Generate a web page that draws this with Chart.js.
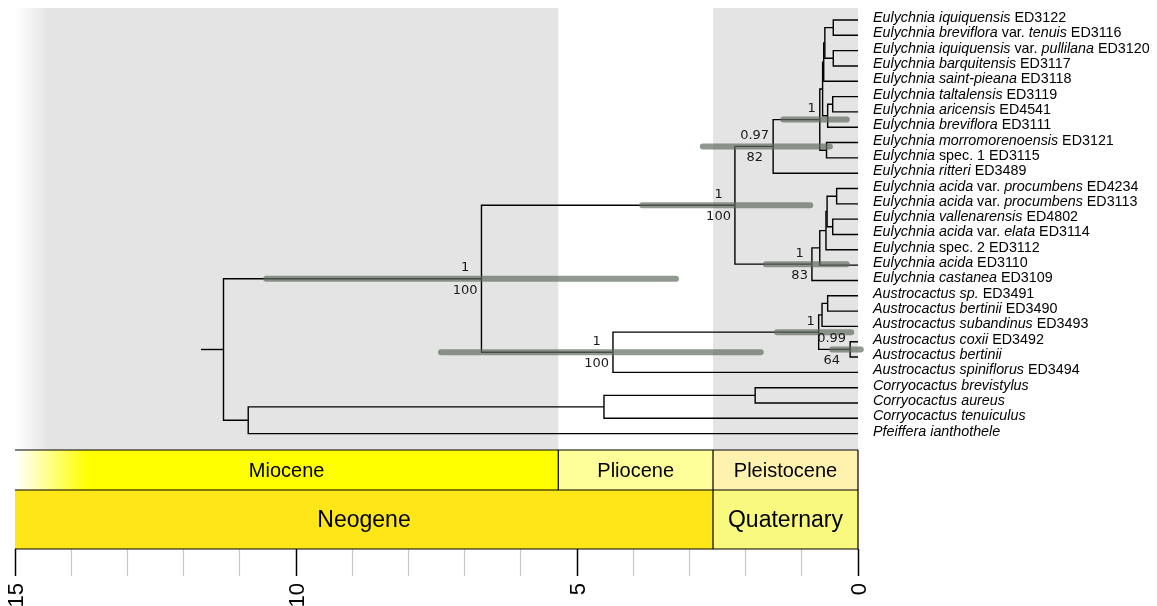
<!DOCTYPE html>
<html>
<head>
<meta charset="utf-8">
<script src="https://cdn.jsdelivr.net/npm/chart.js@4.4.1/dist/chart.umd.min.js"></script>
<style>
  html, body { margin: 0; padding: 0; background: #fff; }
  #wrap { width: 1157px; height: 606px; position: relative; }
</style>
</head>
<body>
<div id="wrap"><canvas id="tree"></canvas></div>
<script>
// tips, top to bottom (text between * is italic)
const tipLabels = [
    '*Eulychnia iquiquensis* ED3122',
    '*Eulychnia breviflora* var. *tenuis* ED3116',
    '*Eulychnia iquiquensis* var. *pullilana* ED3120',
    '*Eulychnia barquitensis* ED3117',
    '*Eulychnia saint-pieana* ED3118',
    '*Eulychnia taltalensis* ED3119',
    '*Eulychnia aricensis* ED4541',
    '*Eulychnia breviflora* ED3111',
    '*Eulychnia morromorenoensis* ED3121',
    '*Eulychnia* spec. 1 ED3115',
    '*Eulychnia ritteri* ED3489',
    '*Eulychnia acida* var. *procumbens* ED4234',
    '*Eulychnia acida* var. *procumbens* ED3113',
    '*Eulychnia vallenarensis* ED4802',
    '*Eulychnia acida* var. *elata* ED3114',
    '*Eulychnia* spec. 2 ED3112',
    '*Eulychnia acida* ED3110',
    '*Eulychnia castanea* ED3109',
    '*Austrocactus sp.* ED3491',
    '*Austrocactus bertinii* ED3490',
    '*Austrocactus subandinus* ED3493',
    '*Austrocactus coxii* ED3492',
    '*Austrocactus bertinii*',
    '*Austrocactus spiniflorus* ED3494',
    '*Corryocactus brevistylus*',
    '*Corryocactus aureus*',
    '*Corryocactus tenuiculus*',
    '*Pfeiffera ianthothele*'
];

// internal nodes: children (tip index or node id) and age (Ma)
const nodeIds = ['A', 'B', 'C', 'D', 'E', 'F', 'G', 'H', 'I', 'J',
    'K', 'L', 'M', 'N', 'O', 'P', 'EU', 'S', 'Q', 'T', 'R', 'AU',
    'ING', 'C2', 'CO', 'OUT', 'ROOT'];
const nodeChildren = [[0, 1], [2, 3], ['A', 'B'], ['C', 4], [5, 6], ['E', 7], ['D', 'F'], [8, 9], ['G', 'H'], ['I', 10],
    [11, 12], [13, 14], ['K', 'L'], ['M', 15], ['N', 16], ['O', 17], ['J', 'P'], [18, 19], ['S', 20], [21, 22], ['Q', 'T'], ['R', 23],
    ['EU', 'AU'], [24, 25], ['C2', 26], ['CO', 27], ['ING', 'OUT']];
const nodeAges = [0.44, 0.44, 0.59, 0.61, 0.45, 0.54, 0.63, 0.56, 0.68, 1.51,
    0.38, 0.45, 0.55, 0.57, 0.68, 0.82, 2.19, 0.54, 0.64, 0.14, 0.70, 4.36,
    6.70, 1.83, 4.52, 10.85, 11.29];
const rootStemAge = 11.69;

// support (posterior / bootstrap) and 95% HPD of node ages
const supportNodes = ['ING', 'EU', 'J', 'I', 'P', 'AU', 'R', 'T'];
const posterior = ['1', '1', '0.97', '1', '1', '1', '1', '0.99'];
const bootstrap = ['100', '100', '82', '', '83', '100', '', '64'];
const hpdMin = [3.24, 0.85, 0.50, 0.20, 0.20, 1.73, 0.12, -0.05];
const hpdMax = [10.53, 3.84, 2.76, 1.33, 1.64, 7.42, 1.44, 0.46];

// geologic time scale
const epochNames = ['Miocene', 'Pliocene', 'Pleistocene'];
const epochStart = [23.03, 5.333, 2.58];
const epochEnd = [5.333, 2.58, 0];
const epochColors = ['#ffff00', '#ffff99', '#fff2ae'];
const periodNames = ['Neogene', 'Quaternary'];
const periodStart = [23.03, 2.58];
const periodEnd = [2.58, 0];
const periodColors = ['#ffe619', '#f9f97f'];
const labelledAges = [0, 5, 10, 15];

// layout
const EPOCH_ROW = 40, PERIOD_ROW = 59;
const TIP_FONT = '14.3px "Liberation Sans", Arial, sans-serif';
const NODE_FONT = '13px "DejaVu Sans", sans-serif';

const nodeIndex = {};
nodeIds.forEach((id, i) => { nodeIndex[id] = i; });

function posOf(c) {
    if (typeof c === 'number') return { x: 0, y: c };
    const i = nodeIndex[c];
    const ys = nodeChildren[i].map(k => posOf(k).y);
    return { x: nodeAges[i], y: (ys[0] + ys[1]) / 2 };
}

const treeStyle = {
    showLine: true, borderColor: '#000', borderWidth: 1.4,
    pointRadius: 0, pointHoverRadius: 0, fill: false, order: 1
};

const datasets = [];
nodeIds.forEach((id, i) => {
    const p = posOf(id);
    const [a, b] = nodeChildren[i].map(posOf);
    datasets.push(Object.assign({
        data: [{ x: a.x, y: a.y }, { x: p.x, y: a.y }, { x: p.x, y: b.y }, { x: b.x, y: b.y }]
    }, treeStyle));
});
const rootPos = posOf('ROOT');
datasets.push(Object.assign({
    data: [{ x: rootStemAge, y: rootPos.y }, { x: rootPos.x, y: rootPos.y }]
}, treeStyle));

supportNodes.forEach((id, i) => {
    const p = posOf(id);
    datasets.push({
        data: [{ x: hpdMax[i], y: p.y }, { x: hpdMin[i], y: p.y }],
        showLine: true, borderColor: 'rgba(95,110,95,0.7)', borderWidth: 6,
        borderCapStyle: 'round', pointRadius: 0, pointHoverRadius: 0,
        fill: false, order: 0, clip: false
    });
});

// grey epoch bands + time scale boxes
const backdrop = {
    id: 'backdrop',
    beforeDatasetsDraw(chart) {
        const { ctx, chartArea: area, scales: { x } } = chart;
        const px = t => x.getPixelForValue(Math.min(t, x.max));
        const left = px(x.max), right = px(x.min);
        const periodTop = area.bottom - PERIOD_ROW;
        const epochTop = periodTop - EPOCH_ROW;
        ctx.save();

        epochNames.forEach((name, i) => {
            if (i % 2) return;
            const x0 = px(epochStart[i]), x1 = px(epochEnd[i]);
            let fill = '#e4e4e4';
            if (epochStart[i] > x.max) {
                fill = ctx.createLinearGradient(x0, 0, px(14.4), 0);
                fill.addColorStop(0, '#ffffff');
                fill.addColorStop(1, '#e4e4e4');
            }
            ctx.fillStyle = fill;
            ctx.fillRect(x0, area.top, x1 - x0, epochTop - area.top);
        });

        ctx.textAlign = 'center';
        ctx.textBaseline = 'middle';
        epochNames.forEach((name, i) => {
            const x0 = px(epochStart[i]), x1 = px(epochEnd[i]);
            let fill = epochColors[i];
            if (epochStart[i] > x.max) {
                fill = ctx.createLinearGradient(x0, 0, px(13.7), 0);
                fill.addColorStop(0, '#ffffff');
                fill.addColorStop(1, epochColors[i]);
            }
            ctx.fillStyle = fill;
            ctx.fillRect(x0, epochTop, x1 - x0, EPOCH_ROW);
            ctx.fillStyle = '#000';
            ctx.font = '20px "Liberation Sans", Arial, sans-serif';
            ctx.fillText(name, (x0 + x1) / 2, epochTop + EPOCH_ROW / 2 + 1);
        });
        periodNames.forEach((name, i) => {
            const x0 = px(periodStart[i]), x1 = px(periodEnd[i]);
            ctx.fillStyle = periodColors[i];
            ctx.fillRect(x0, periodTop, x1 - x0, PERIOD_ROW);
            ctx.fillStyle = '#000';
            ctx.font = '23px "Liberation Sans", Arial, sans-serif';
            ctx.fillText(name, (x0 + x1) / 2, periodTop + PERIOD_ROW / 2 + 1);
        });

        ctx.strokeStyle = '#000';
        ctx.lineWidth = 1.2;
        ctx.beginPath();
        [epochTop, periodTop, area.bottom].forEach(yy => {
            ctx.moveTo(left, yy); ctx.lineTo(right, yy);
        });
        epochEnd.forEach(t => { ctx.moveTo(px(t), epochTop); ctx.lineTo(px(t), periodTop); });
        periodEnd.forEach(t => { ctx.moveTo(px(t), periodTop); ctx.lineTo(px(t), area.bottom); });
        ctx.stroke();
        ctx.restore();
    }
};

// tip names and node support labels
const treeText = {
    id: 'treeText',
    afterDatasetsDraw(chart) {
        const { ctx, scales: { x, y } } = chart;
        ctx.save();
        ctx.fillStyle = '#000';
        ctx.textAlign = 'left';
        ctx.textBaseline = 'alphabetic';
        tipLabels.forEach((label, i) => {
            let tx = x.getPixelForValue(0) + 15;
            const ty = y.getPixelForValue(i) + 2;
            label.split('*').forEach((part, k) => {
                ctx.font = (k % 2 ? 'italic ' : '') + TIP_FONT;
                ctx.fillText(part, tx, ty);
                tx += ctx.measureText(part).width;
            });
        });

        ctx.font = NODE_FONT;
        ctx.fillStyle = '#1a1a1a';
        ctx.textAlign = 'center';
        ctx.textBaseline = 'middle';
        supportNodes.forEach((id, i) => {
            const p = posOf(id);
            const nx = x.getPixelForValue(p.x), ny = y.getPixelForValue(p.y);
            const w = Math.max(ctx.measureText(posterior[i]).width, ctx.measureText(bootstrap[i]).width);
            const cx = nx - w / 2 - 4;
            ctx.fillText(posterior[i], cx, ny - 11);
            if (bootstrap[i]) ctx.fillText(bootstrap[i], cx, ny + 11.5);
        });
        ctx.restore();
    }
};

new Chart(document.getElementById('tree'), {
    type: 'scatter',
    data: { datasets },
    options: {
        responsive: true,
        maintainAspectRatio: false,
        animation: false,
        events: [],
        layout: { padding: { left: 15, right: 299, top: 8, bottom: 0 } },
        plugins: { legend: { display: false }, tooltip: { enabled: false } },
        scales: {
            x: {
                type: 'linear', min: 0, max: 15, reverse: true,
                afterFit: s => { s.height = 57; },
                border: { display: false },
                grid: {
                    drawOnChartArea: false, drawTicks: true, tickLength: 27,
                    tickColor: c => labelledAges.includes(c.tick.value) ? '#000' : '#c8c8c8',
                    tickWidth: c => labelledAges.includes(c.tick.value) ? 1.5 : 1.2
                },
                ticks: {
                    stepSize: 1, autoSkip: false, minRotation: 90, maxRotation: 90, padding: 7,
                    labelOffset: 2,
                    color: '#000', font: { family: '"Liberation Sans", Arial, sans-serif', size: 22 },
                    callback: v => labelledAges.includes(v) ? String(v) : ''
                }
            },
            y: { type: 'linear', min: -0.783, max: 34.53, reverse: true, display: false }
        }
    },
    plugins: [backdrop, treeText]
});
</script>
</body>
</html>
